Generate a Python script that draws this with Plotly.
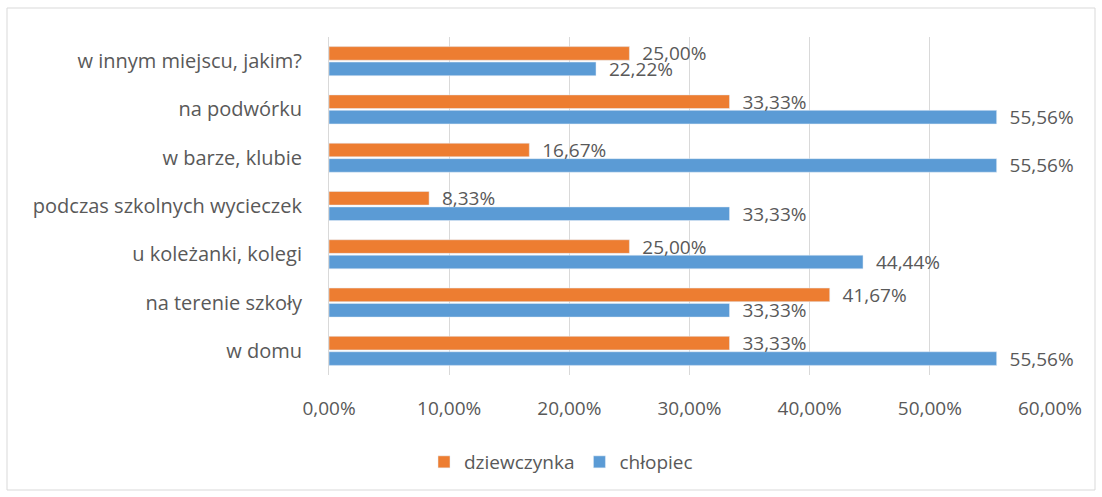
import plotly.graph_objects as go

categories = ["w domu", "na terenie szkoły", "u koleżanki, kolegi",
              "podczas szkolnych wycieczek", "w barze, klubie",
              "na podwórku", "w innym miejscu, jakim?"]
dziewczynka = [0.3333, 0.4167, 0.25, 0.0833, 0.1667, 0.3333, 0.25]
chlopiec = [0.5556, 0.3333, 0.4444, 0.3333, 0.5556, 0.5556, 0.2222]
x_ticks = [0, 0.1, 0.2, 0.3, 0.4, 0.5, 0.6]

W, H = 1102, 497
L, R, T, B = 329, 52, 37, 122
pw, ph = W - L - R, H - T - B

def px_x(v):
    return (v - L) / pw

def px_y(v):
    return (H - B - v) / ph

font_family = "Open Sans, Noto Sans, sans-serif"
grey = "#595959"
fs = 19
pad = "\u00a0\u00a0"

fig = go.Figure()
fig.add_trace(go.Bar(
    y=categories, x=chlopiec, orientation="h", name="chłopiec",
    marker=dict(color="#5B9BD5"),
    texttemplate=pad + "%{x:.2%}", textposition="outside", constraintext="none",
    textfont=dict(color=grey, size=fs, family=font_family),
    cliponaxis=False,
))
fig.add_trace(go.Bar(
    y=categories, x=dziewczynka, orientation="h", name="dziewczynka",
    marker=dict(color="#ED7D31"),
    texttemplate=pad + "%{x:.2%}", textposition="outside", constraintext="none",
    textfont=dict(color=grey, size=fs, family=font_family),
    cliponaxis=False,
))

fig.update_layout(
    width=W, height=H,
    margin=dict(l=L, r=R, t=T, b=B, autoexpand=False),
    paper_bgcolor="white", plot_bgcolor="white",
    barmode="group", bargap=0.36, bargroupgap=0.12,
    separators=", ",
    font=dict(family=font_family, color=grey, size=fs),
    showlegend=True,
    legend=dict(orientation="h", traceorder="reversed",
                x=px_x(561), xanchor="center", y=px_y(462), yanchor="middle",
                font=dict(size=fs, color=grey, family=font_family)),
    xaxis=dict(range=[0, 0.6], tickvals=x_ticks, tickformat=".2%",
               showgrid=True, gridcolor="#D9D9D9", gridwidth=1,
               zeroline=False, showline=False, ticks="",
               ticklabelstandoff=20,
               tickfont=dict(size=fs, color=grey, family=font_family)),
    yaxis=dict(categoryorder="array", categoryarray=categories,
               showgrid=False, zeroline=False,
               showline=True, linecolor="#D9D9D9", linewidth=1,
               ticks="", ticklabelstandoff=22,
               tickfont=dict(size=20, color=grey, family=font_family)),
    shapes=[dict(type="rect", xref="paper", yref="paper",
                 x0=px_x(7), x1=px_x(1095), y0=px_y(490), y1=px_y(8),
                 line=dict(color="#D9D9D9", width=1), layer="below")],
)

fig.write_html("out.html", config={"displayModeBar": False},
               post_script="document.body.style.margin='0';")
